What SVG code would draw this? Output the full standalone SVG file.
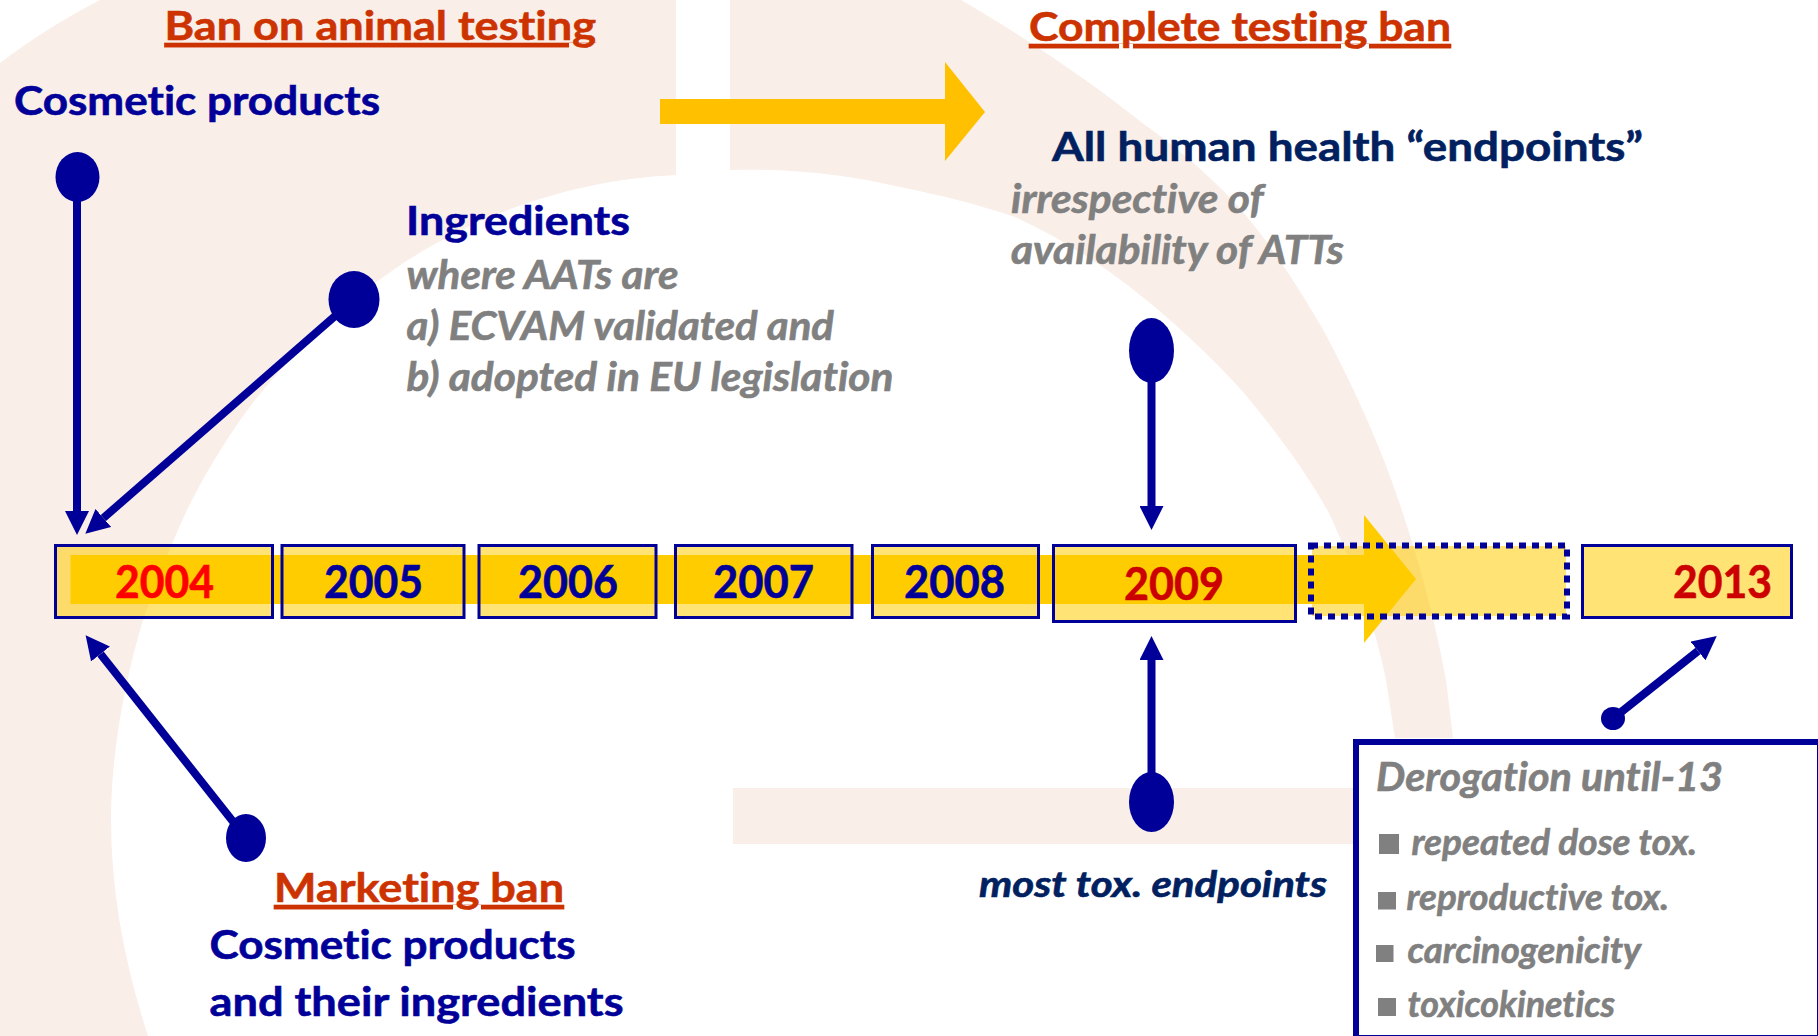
<svg xmlns="http://www.w3.org/2000/svg" width="1818" height="1036" viewBox="0 0 1818 1036">
<style>
text{font-family:"Lato","Liberation Sans",sans-serif;font-weight:700;font-variant-ligatures:none;stroke-width:.6}
.hd{font-size:41px;fill:#CC3300;stroke:#CC3300;text-decoration:underline;text-decoration-skip-ink:none}
.bl{font-size:41px;fill:#000099;stroke:#000099}
.nv{font-size:41px;fill:#002060;stroke:#002060}
.gy{font-size:40px;fill:#808080;stroke:#808080;font-style:italic}
.sm{font-size:36px;fill:#808080;stroke:#808080;font-style:italic}
.yr{font-size:46px}
.box{fill:#FFCC00;fill-opacity:.54}
.edge{fill:none;stroke:#000099;stroke-width:3}
.bul{fill:#808080}
.dot{fill:#000099}
.ln{stroke:#000099;stroke-width:8;fill:none;marker-end:url(#ah)}
</style>
<defs>
<marker id="ah" markerUnits="userSpaceOnUse" markerWidth="24" markerHeight="24" refX="0" refY="12" orient="auto"><path d="M0,0L24,12L0,24Z" fill="#000099"/></marker>
</defs>
<rect width="1818" height="1036" fill="#fff"/>
<g id="background" fill="#F9EEE8">
<path d="M148,1036C125,965 111,893 111,820C111,752 125,680 143,620C158,580 172,540 192,500C210,465 232,430 255,400C300,345 350,298 408,260C480,215 570,180 676,175L676,0L100,0C65,18 30,40 0,63L0,1036Z"/>
<path d="M730,170C790,168 850,175 900,187C940,195 980,205 1015,217C1055,235 1095,260 1130,287C1170,318 1210,355 1244,393C1275,430 1305,470 1329,513C1355,570 1375,625 1386,680L1395,738L1453,738L1446,680C1435,620 1420,565 1405,520C1385,455 1355,390 1325,333C1300,290 1275,250 1244,213C1215,180 1180,150 1145,125C1095,85 1030,40 961,0L730,0Z"/>
<rect x="733" y="788" width="640" height="56"/>
</g>
<path id="top-arrow" d="M660,99H945V62L985,112L945,161V124H660Z" fill="#FFC000"/>
<g id="timeline-fills">
<rect class="box" x="56" y="546" width="216" height="71"/>
<rect class="box" x="282" y="546" width="182" height="71"/>
<rect class="box" x="479" y="546" width="177" height="71"/>
<rect class="box" x="676" y="546" width="176" height="71"/>
<rect class="box" x="873" y="546" width="166" height="71"/>
<rect class="box" x="1054" y="546" width="241" height="75"/>
<rect class="box" x="1312" y="546" width="254" height="70"/>
<rect class="box" x="1583" y="546" width="208" height="71"/>
</g>
<path id="timeline-arrow" d="M70.5,555H1364V515L1416,579L1364,643V604H70.5Z" fill="#FFCC00"/>
<g id="y2004"><rect class="edge" x="55.5" y="545.5" width="217" height="72"/><text class="yr" x="115" y="598" fill="#FF0000" stroke="#FF0000" textLength="99" lengthAdjust="spacingAndGlyphs">2004</text></g>
<g id="y2005"><rect class="edge" x="282" y="545.5" width="182" height="72"/><text class="yr" x="324" y="598" fill="#000099" stroke="#000099" textLength="99" lengthAdjust="spacingAndGlyphs">2005</text></g>
<g id="y2006"><rect class="edge" x="479" y="545.5" width="177" height="72"/><text class="yr" x="518" y="598" fill="#000099" stroke="#000099" textLength="100" lengthAdjust="spacingAndGlyphs">2006</text></g>
<g id="y2007"><rect class="edge" x="675.5" y="545.5" width="176.5" height="72"/><text class="yr" x="713" y="598" fill="#000099" stroke="#000099" textLength="101" lengthAdjust="spacingAndGlyphs">2007</text></g>
<g id="y2008"><rect class="edge" x="872.5" y="545.5" width="166" height="72"/><text class="yr" x="904" y="598" fill="#000099" stroke="#000099" textLength="101" lengthAdjust="spacingAndGlyphs">2008</text></g>
<g id="y2009"><rect class="edge" x="1053.5" y="545.5" width="242" height="76"/><text class="yr" x="1124" y="600" fill="#CC0000" stroke="#CC0000" textLength="100" lengthAdjust="spacingAndGlyphs">2009</text></g>
<g id="gap"><rect x="1311" y="545.5" width="256" height="71" fill="none" stroke="#000099" stroke-width="6" stroke-dasharray="7 6"/></g>
<g id="y2013"><rect class="edge" x="1582.5" y="545.5" width="209" height="72"/><text class="yr" x="1673" y="598" fill="#CC0000" stroke="#CC0000" textLength="99" lengthAdjust="spacingAndGlyphs">2013</text></g>
<g id="connectors">
<line class="ln" x1="77" y1="177" x2="77" y2="511"/>
<line class="ln" x1="354" y1="299.5" x2="103.4" y2="518"/>
<line class="ln" x1="246" y1="838" x2="100.5" y2="654"/>
<line class="ln" x1="1151.5" y1="350" x2="1151.5" y2="506"/>
<line class="ln" x1="1151.5" y1="802" x2="1151.5" y2="660"/>
<line class="ln" x1="1613" y1="718.5" x2="1698" y2="651"/>
<ellipse class="dot" cx="77.5" cy="177" rx="22" ry="25"/>
<ellipse class="dot" cx="354" cy="299.5" rx="25.5" ry="28.5"/>
<ellipse class="dot" cx="246" cy="838" rx="20" ry="24"/>
<ellipse class="dot" cx="1151.5" cy="350.5" rx="22.5" ry="32.5"/>
<ellipse class="dot" cx="1151.5" cy="802" rx="22.5" ry="30"/>
<ellipse class="dot" cx="1613" cy="718.5" rx="12" ry="11.5"/>
</g>
<g id="ban-on-animal-testing"><text class="hd" x="164.5" y="40" textLength="431.5" lengthAdjust="spacingAndGlyphs">Ban on animal testing</text></g>
<g id="complete-testing-ban"><text class="hd" x="1029" y="41" textLength="422" lengthAdjust="spacingAndGlyphs">Complete testing ban</text></g>
<g id="cosmetic-products"><text class="bl" x="14" y="115" textLength="366" lengthAdjust="spacingAndGlyphs">Cosmetic products</text></g>
<g id="ingredients">
<text class="bl" x="406" y="235" textLength="224" lengthAdjust="spacingAndGlyphs">Ingredients</text>
<text class="gy" x="406.5" y="288.5" textLength="272" lengthAdjust="spacingAndGlyphs">where AATs are</text>
<text class="gy" x="406.5" y="339.5" textLength="427.5" lengthAdjust="spacingAndGlyphs">a) ECVAM validated and</text>
<text class="gy" x="406.5" y="391" textLength="487" lengthAdjust="spacingAndGlyphs">b) adopted in EU legislation</text>
</g>
<g id="all-endpoints">
<text class="nv" x="1052" y="160.5" textLength="591" lengthAdjust="spacingAndGlyphs">All human health “endpoints”</text>
<text class="gy" x="1011" y="213" textLength="252.5" lengthAdjust="spacingAndGlyphs">irrespective of</text>
<text class="gy" x="1011" y="264" textLength="333" lengthAdjust="spacingAndGlyphs">availability of ATTs</text>
</g>
<g id="marketing-ban">
<text class="hd" x="274" y="902" textLength="290" lengthAdjust="spacingAndGlyphs">Marketing ban</text>
<text class="bl" x="209.5" y="958.5" textLength="366" lengthAdjust="spacingAndGlyphs">Cosmetic products</text>
<text class="bl" x="209.5" y="1015.5" textLength="414" lengthAdjust="spacingAndGlyphs">and their ingredients</text>
</g>
<g id="most-tox"><text class="nv" font-style="italic" style="font-size:37px" x="979" y="896.5" textLength="348" lengthAdjust="spacingAndGlyphs">most tox. endpoints</text></g>
<g id="derogation">
<rect x="1356" y="742" width="464" height="296" fill="#fff" stroke="#000099" stroke-width="6"/>
<text class="gy" x="1376" y="791" textLength="347" lengthAdjust="spacingAndGlyphs">Derogation until-13</text>
<rect class="bul" x="1379" y="834" width="20" height="20"/>
<text class="sm" x="1411.5" y="854.5" textLength="285.5" lengthAdjust="spacingAndGlyphs">repeated dose tox.</text>
<rect class="bul" x="1378" y="892" width="18" height="17.5"/>
<text class="sm" x="1406.5" y="909.5" textLength="262.5" lengthAdjust="spacingAndGlyphs">reproductive tox.</text>
<rect class="bul" x="1376" y="945" width="17.5" height="17"/>
<text class="sm" x="1407.5" y="963" textLength="233.5" lengthAdjust="spacingAndGlyphs">carcinogenicity</text>
<rect class="bul" x="1378" y="998" width="18" height="18"/>
<text class="sm" x="1407.5" y="1016.5" textLength="207.5" lengthAdjust="spacingAndGlyphs">toxicokinetics</text>
</g>
</svg>
